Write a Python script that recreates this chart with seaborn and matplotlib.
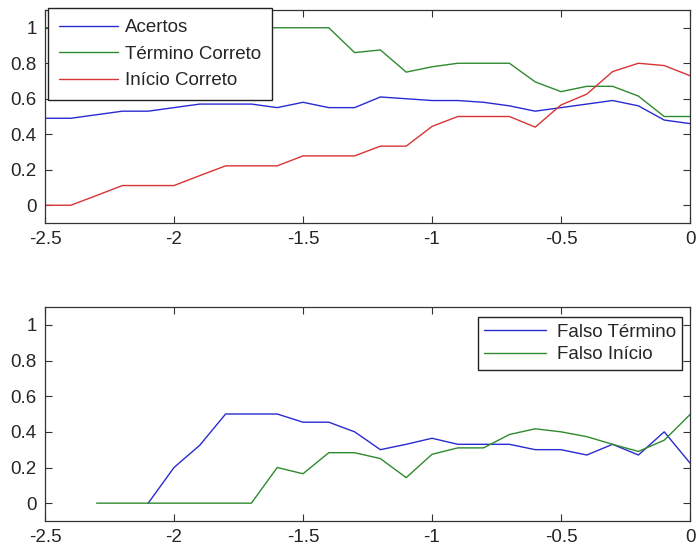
import numpy as np
import pandas as pd
import matplotlib
matplotlib.use("Agg")
import matplotlib.pyplot as plt
import seaborn as sns

# Offset axis (seconds), shared by both panels
x = [-2.5, -2.4, -2.3, -2.2, -2.1, -2.0, -1.9, -1.8, -1.7, -1.6, -1.5, -1.4, -1.3,
     -1.2, -1.1, -1.0, -0.9, -0.8, -0.7, -0.6, -0.5, -0.4, -0.3, -0.2, -0.1, 0.0]

# Upper panel
acertos = [0.49, 0.49, 0.51, 0.53, 0.53, 0.55, 0.57, 0.57, 0.57, 0.55, 0.58, 0.55, 0.55,
           0.61, 0.60, 0.59, 0.59, 0.58, 0.56, 0.53, 0.55, 0.57, 0.59, 0.56, 0.48, 0.46]
termino_correto = [1.0, 1.0, 1.0, 1.0, 1.0, 1.0, 1.0, 1.0, 1.0, 1.0, 1.0, 1.0, 0.86,
                   0.875, 0.75, 0.78, 0.80, 0.80, 0.80, 0.695, 0.64, 0.67, 0.67, 0.615, 0.50, 0.50]
inicio_correto = [0.0, 0.0, 0.055, 0.111, 0.111, 0.111, 0.167, 0.222, 0.222, 0.222, 0.278, 0.278, 0.278,
                  0.333, 0.333, 0.444, 0.50, 0.50, 0.50, 0.44, 0.565, 0.626, 0.753, 0.80, 0.787, 0.73]

# Lower panel (NaN where the series is not defined)
falso_termino = [np.nan, np.nan, np.nan, np.nan, 0.0, 0.20, 0.325, 0.50, 0.50, 0.50, 0.454, 0.454, 0.40,
                 0.30, 0.33, 0.364, 0.33, 0.33, 0.33, 0.30, 0.30, 0.27, 0.33, 0.27, 0.40, 0.225]
falso_inicio = [np.nan, np.nan, 0.0, 0.0, 0.0, 0.0, 0.0, 0.0, 0.0, 0.20, 0.165, 0.283, 0.283,
                0.25, 0.143, 0.274, 0.31, 0.31, 0.385, 0.417, 0.40, 0.373, 0.33, 0.29, 0.353, 0.497]

top_labels = ["Acertos", "Término Correto", "Início Correto"]
bottom_labels = ["Falso Término", "Falso Início"]
x_ticks = [-2.5, -2, -1.5, -1, -0.5, 0]
x_tick_labels = ["-2.5", "-2", "-1.5", "-1", "-0.5", "0"]
y_ticks = [0, 0.2, 0.4, 0.6, 0.8, 1]
y_tick_labels = ["0", "0.2", "0.4", "0.6", "0.8", "1"]

BLUE = "#2a2ad2"
GREEN = "#2f8a2f"
RED = "#d83434"

sns.set_style("white")
plt.rcParams["font.family"] = ["Liberation Sans", "DejaVu Sans"]
plt.rcParams["font.size"] = 13

top_df = pd.DataFrame({
    "x": x * 3,
    "y": acertos + termino_correto + inicio_correto,
    "serie": [top_labels[0]] * len(x) + [top_labels[1]] * len(x) + [top_labels[2]] * len(x),
})
bottom_df = pd.DataFrame({
    "x": x * 2,
    "y": falso_termino + falso_inicio,
    "serie": [bottom_labels[0]] * len(x) + [bottom_labels[1]] * len(x),
})

fig = plt.figure(figsize=(6.96, 5.49), dpi=100)
ax1 = fig.add_axes([45 / 696, 1 - 223 / 549, 645 / 696, 213 / 549])
ax2 = fig.add_axes([45 / 696, 1 - 521 / 549, 645 / 696, 214 / 549])

sns.lineplot(data=top_df, x="x", y="y", hue="serie", hue_order=top_labels,
             palette=[BLUE, GREEN, RED], linewidth=1.0, ax=ax1)
sns.lineplot(data=bottom_df, x="x", y="y", hue="serie", hue_order=bottom_labels,
             palette=[BLUE, GREEN], linewidth=1.0, ax=ax2)

for ax in (ax1, ax2):
    ax.set_xlim(-2.5, 0)
    ax.set_ylim(-0.1, 1.1)
    ax.set_xticks(x_ticks)
    ax.set_xticklabels(x_tick_labels)
    ax.set_yticks(y_ticks)
    ax.set_yticklabels(y_tick_labels)
    ax.set_xlabel("")
    ax.set_ylabel("")
    ax.tick_params(direction="in", length=5, width=0.8, color="#333333",
                   labelsize=13.5, top=True, right=True, bottom=True, left=True,
                   pad=6)
    for sp in ax.spines.values():
        sp.set_visible(True)
        sp.set_color("#333333")
        sp.set_linewidth(0.9)

leg1 = ax1.legend(handles=ax1.get_legend_handles_labels()[0],
                  labels=top_labels, loc="upper left",
                  bbox_to_anchor=(0.005, 1.01), borderaxespad=0,
                  fontsize=13.5, handlelength=3.1, handletextpad=0.4,
                  labelspacing=0.5, borderpad=0.6, fancybox=False,
                  framealpha=1, edgecolor="#222222")
leg1.get_frame().set_linewidth(1.0)

leg2 = ax2.legend(handles=ax2.get_legend_handles_labels()[0],
                  labels=bottom_labels, loc="upper right",
                  bbox_to_anchor=(0.988, 0.953), borderaxespad=0,
                  fontsize=13.5, handlelength=3.3, handletextpad=0.55,
                  labelspacing=0.3, borderpad=0.35, fancybox=False,
                  framealpha=1, edgecolor="#222222")
leg2.get_frame().set_linewidth(1.0)

fig.savefig("out.png", dpi=100)
